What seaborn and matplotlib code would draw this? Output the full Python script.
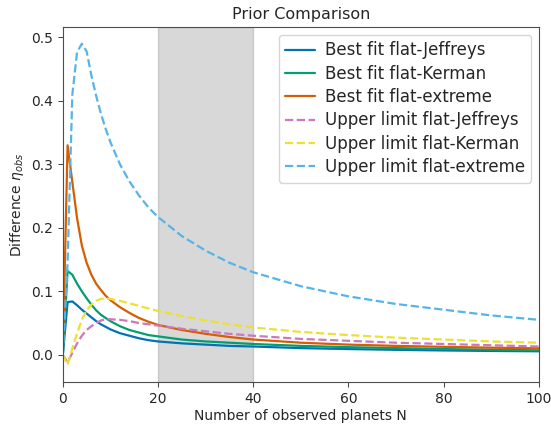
import numpy as np
import pandas as pd
import matplotlib
matplotlib.use("Agg")
import matplotlib.pyplot as plt
import seaborn as sns

# Number of observed planets (sample points)
N = [0, 1, 2, 3, 4, 5, 6, 7, 8, 9, 10, 12, 14, 16, 18, 20, 25, 30, 35, 40,
     50, 60, 70, 80, 90, 100]

best_jeffreys = [0.0, 0.083, 0.084, 0.078, 0.071, 0.065, 0.059, 0.053, 0.048, 0.044,
                 0.040, 0.034, 0.030, 0.026, 0.023, 0.021, 0.018, 0.016, 0.014, 0.013,
                 0.0105, 0.009, 0.0078, 0.0068, 0.006, 0.0055]
best_kerman = [0.0, 0.132, 0.126, 0.112, 0.100, 0.089, 0.079, 0.070, 0.063, 0.058,
               0.053, 0.045, 0.039, 0.035, 0.031, 0.029, 0.024, 0.021, 0.019, 0.017,
               0.014, 0.012, 0.0105, 0.009, 0.008, 0.007]
best_extreme = [0.0, 0.330, 0.272, 0.215, 0.172, 0.145, 0.126, 0.112, 0.102, 0.093,
                0.086, 0.075, 0.066, 0.058, 0.052, 0.047, 0.039, 0.033, 0.028, 0.024,
                0.019, 0.016, 0.014, 0.0125, 0.0112, 0.0102]
upper_jeffreys = [0.0, -0.012, 0.003, 0.018, 0.030, 0.039, 0.045, 0.050, 0.054, 0.056,
                  0.056, 0.055, 0.053, 0.050, 0.048, 0.046, 0.041, 0.037, 0.033, 0.030,
                  0.025, 0.022, 0.019, 0.017, 0.015, 0.013]
upper_kerman = [0.0, -0.016, 0.010, 0.034, 0.055, 0.070, 0.079, 0.085, 0.088, 0.089,
                0.088, 0.085, 0.081, 0.077, 0.073, 0.069, 0.061, 0.054, 0.048, 0.043,
                0.036, 0.031, 0.027, 0.024, 0.021, 0.019]
upper_extreme = [0.0, 0.145, 0.410, 0.477, 0.490, 0.478, 0.440, 0.408, 0.380, 0.356,
                 0.335, 0.300, 0.273, 0.251, 0.232, 0.217, 0.187, 0.164, 0.145, 0.130,
                 0.108, 0.092, 0.080, 0.071, 0.062, 0.055]

labels = ["Best fit flat-Jeffreys", "Best fit flat-Kerman", "Best fit flat-extreme",
          "Upper limit flat-Jeffreys", "Upper limit flat-Kerman", "Upper limit flat-extreme"]
series = [best_jeffreys, best_kerman, best_extreme,
          upper_jeffreys, upper_kerman, upper_extreme]

sns.set_theme(style="ticks", rc={
    "axes.edgecolor": ".3", "axes.linewidth": 0.8,
    "xtick.major.width": 0.8, "ytick.major.width": 0.8,
    "xtick.major.size": 3.5, "ytick.major.size": 3.5,
    "xtick.color": ".3", "ytick.color": ".3",
    "xtick.labelcolor": ".15", "ytick.labelcolor": ".15",
})
pal = sns.color_palette("colorblind")
colors = [pal[0], pal[2], pal[3], pal[4], pal[8], pal[9]]
styles = ["-", "-", "-", "--", "--", "--"]

fig, ax = plt.subplots(figsize=(5.51, 4.25), dpi=100)
fig.subplots_adjust(left=0.114, right=0.978, top=0.936, bottom=0.101)

ax.axvspan(20, 40, color="gray", alpha=0.3)

for lab, vals, col, ls in zip(labels, series, colors, styles):
    df = pd.DataFrame({"N": N, "eta": vals})
    sns.lineplot(data=df, x="N", y="eta", ax=ax, color=col, linestyle=ls,
                 lw=1.6, label=lab)

ax.set_xlim(0, 100)
ax.set_ylim(-0.043, 0.516)
ax.set_xlabel("Number of observed planets N", fontsize=10, labelpad=2)
ax.set_ylabel(r"Difference $\eta_{obs}$", fontsize=10, labelpad=4)
ax.set_title("Prior Comparison", fontsize=11.5)
ax.tick_params(labelsize=10)
ax.legend(loc="upper right", fontsize=12, labelspacing=0.32, handlelength=1.8,
          handletextpad=0.55, borderaxespad=0.45)

fig.savefig("out.png", dpi=100)
